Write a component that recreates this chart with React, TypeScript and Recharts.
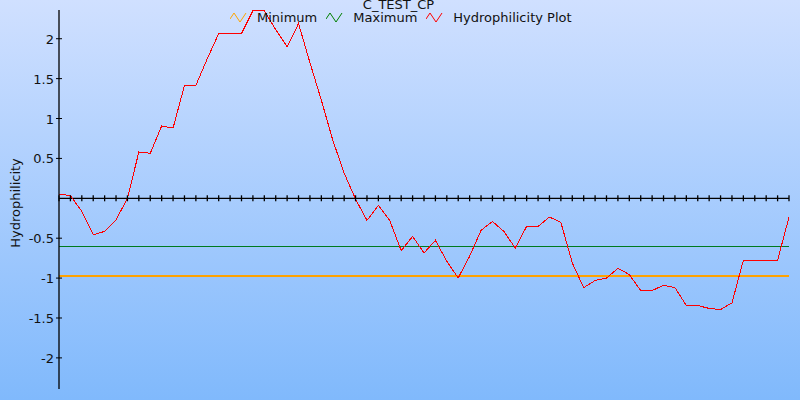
import React from 'react'
import { LineChart, Line, XAxis, YAxis } from 'recharts'

// hydrophilicity per residue window
const hydro = [
  0.05, 0.035, -0.165, -0.456, -0.415, -0.27, 0.0, 0.58, 0.565, 0.906,
  0.88, 1.415, 1.415, 1.75, 2.065, 2.065, 2.065, 2.35, 2.35, 2.115,
  1.9, 2.19, 1.7, 1.23, 0.73, 0.315, -0.01, -0.277, -0.09, -0.28,
  -0.656, -0.477, -0.685, -0.527, -0.79, -0.998, -0.727, -0.402, -0.29, -0.415,
  -0.623, -0.352, -0.352, -0.235, -0.302, -0.81, -1.12, -1.03, -1.0, -0.877,
  -0.956, -1.156, -1.156, -1.09, -1.12, -1.344, -1.344, -1.38, -1.394, -1.31,
  -0.777, -0.777, -0.777, -0.777, -0.235,
]
const minimumValue = -0.973
const maximumValue = -0.61
const yTicks = [-2, -1.5, -1, -0.5, 0.5, 1, 1.5, 2]

const data = hydro.map((v, i) => ({
  pos: i,
  hydro: v,
  min: minimumValue,
  max: maximumValue,
  zero: 0,
}))

const FONT = '"DejaVu Sans", Verdana, sans-serif'

const YTick = ({ x, y, payload }: any) => (
  <g>
    <line x1={x + 2} x2={x + 8} y1={y} y2={y} stroke="#000" />
    <text x={x} y={y} dy={5} textAnchor="end" fontSize={13} fontFamily={FONT} fill="#111">
      {payload.value}
    </text>
  </g>
)

const ZeroTick = ({ cx, cy }: any) => (
  <line x1={cx} x2={cx} y1={cy - 3} y2={cy + 3} stroke="#000" strokeWidth={1.3} />
)

const Zigzag = ({ color }: { color: string }) => (
  <svg width={17} height={12} style={{ display: 'inline-block', verticalAlign: 'middle' }}>
    <polyline points="0,7 4,1 10,10 16,1" fill="none" stroke={color} strokeWidth={1} />
  </svg>
)

const legendItems = [
  { label: 'Minimum', color: '#ffa500' },
  { label: 'Maximum', color: '#008000' },
  { label: 'Hydrophilicity Plot', color: '#ff0000' },
]

export default function App() {
  return (
    <div
      style={{
        position: 'absolute',
        left: 0,
        top: 0,
        width: 800,
        height: 400,
        background: 'linear-gradient(to bottom, #d0e0ff, #80b9fc)',
        fontFamily: FONT,
        overflow: 'hidden',
      }}
    >
      <LineChart width={800} height={400} data={data} margin={{ top: 10, right: 11, bottom: 11, left: 0 }}>
        <XAxis dataKey="pos" type="number" domain={[0, 64]} hide />
        <YAxis
          width={59}
          domain={[-2.39, 2.36]}
          allowDataOverflow
          ticks={yTicks}
          interval={0}
          tickSize={3}
          tickMargin={2}
          tickLine={false}
          axisLine={{ stroke: '#000', strokeWidth: 1.3 }}
          tick={<YTick />}
        />
        <Line dataKey="zero" stroke="#000" strokeWidth={1.3} dot={<ZeroTick />} isAnimationActive={false} />
        <Line dataKey="max" stroke="#007a1e" strokeWidth={1} shapeRendering="crispEdges" dot={false} isAnimationActive={false} />
        <Line dataKey="min" stroke="#ffa200" strokeWidth={1.5} shapeRendering="crispEdges" dot={false} isAnimationActive={false} />
        <Line dataKey="hydro" type="linear" stroke="#ff0000" strokeWidth={1} shapeRendering="crispEdges" dot={false} isAnimationActive={false} />
      </LineChart>
      <div
        style={{
          position: 'absolute',
          left: 15,
          top: 203,
          transform: 'translate(-50%, -50%) rotate(-90deg)',
          fontSize: 13,
          color: '#111',
          whiteSpace: 'nowrap',
        }}
      >
        Hydrophilicity
      </div>
      <div
        style={{
          position: 'absolute',
          left: 0,
          top: -2,
          width: 797,
          textAlign: 'center',
          fontSize: 13,
          lineHeight: '13px',
          color: '#111',
        }}
      >
        C_TEST_CP
      </div>
      <div
        style={{
          position: 'absolute',
          left: 230,
          top: 10,
          display: 'flex',
          alignItems: 'center',
          fontSize: 13,
          color: '#111',
          whiteSpace: 'nowrap',
        }}
      >
        {legendItems.map((it) => (
          <span key={it.label} style={{ display: 'inline-flex', alignItems: 'center', marginRight: 9 }}>
            <Zigzag color={it.color} />
            <span style={{ marginLeft: 10 }}>{it.label}</span>
          </span>
        ))}
      </div>
    </div>
  )
}
